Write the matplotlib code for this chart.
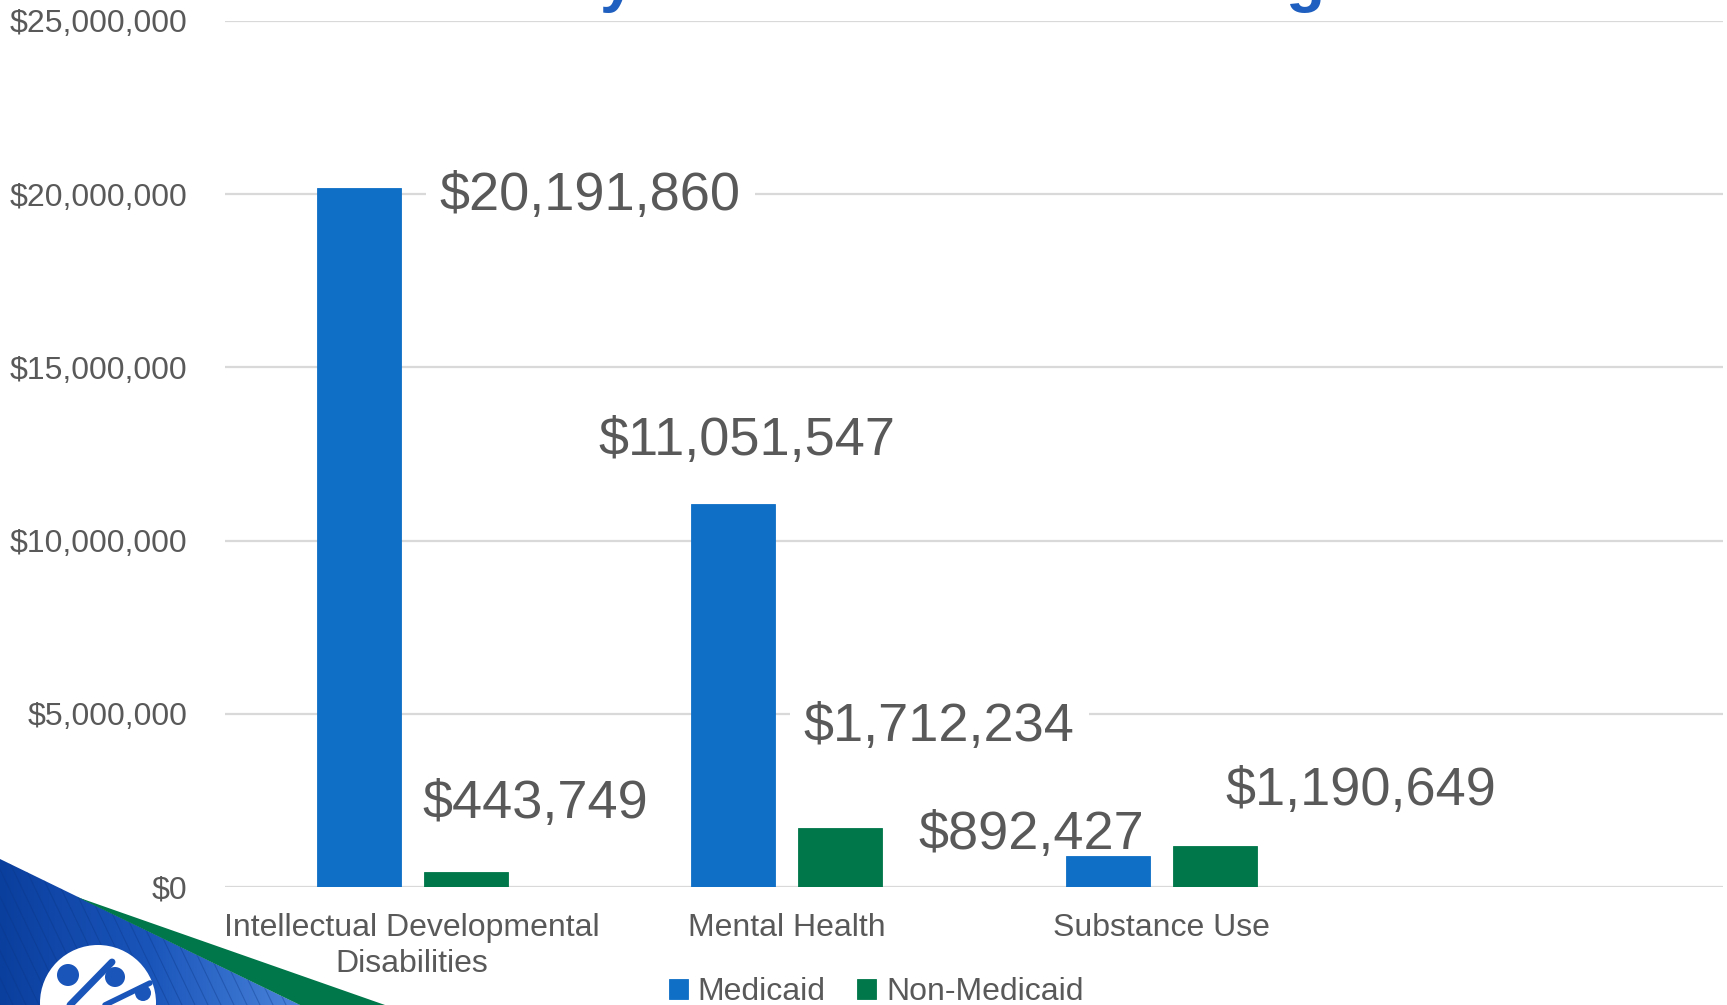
import numpy as np
import matplotlib.pyplot as plt
from matplotlib.patches import Polygon, Circle
from matplotlib.colors import LinearSegmentedColormap
from matplotlib.ticker import FuncFormatter

plt.rcParams['font.family'] = ['Liberation Sans', 'DejaVu Sans']

# data
categories = ['Intellectual Developmental\nDisabilities', 'Mental Health', 'Substance Use', '']
series_names = ['Medicaid', 'Non-Medicaid']
medicaid = [20191860, 11051547, 892427]
non_medicaid = [443749, 1712234, 1190649]

# layout for the hand-placed value labels (offset from each bar)
label_dx = [[0.618, 0.036, -0.203], [0.185, 0.264, 0.389]]
label_dy = [[-0.25e6, 1.83e6, 0.60e6], [1.94e6, 2.90e6, 1.58e6]]

colors = ['#0F6FC6', '#00774A']
text_color = '#595959'
grid_color = '#D9D9D9'

W, H = 1727, 1005
fig = plt.figure(figsize=(W / 100, H / 100), dpi=100)

# background decoration (bottom-left corner logo band)
deco = fig.add_axes([0, 0, 1, 1], zorder=0)
deco.set_xlim(0, W)
deco.set_ylim(H, 0)
deco.axis('off')

blue_poly = Polygon([(0, 859), (300, 1005), (0, 1005)], closed=True,
                    facecolor='none', edgecolor='none')
deco.add_patch(blue_poly)
grad = np.linspace(0, 1, 256).reshape(1, -1)
cmap = LinearSegmentedColormap.from_list('bl', ['#0B3F9E', '#1A55BA', '#4A84DB'])
im = deco.imshow(grad, cmap=cmap, extent=(0, 300, 1005, 859), aspect='auto', zorder=1)
im.set_clip_path(blue_poly)
for s in np.arange(-200, 320, 13):
    ln, = deco.plot([s, s + 70], [859, 1005], color='#0A3585', lw=0.8, alpha=0.35, zorder=2)
    ln.set_clip_path(blue_poly)
deco.add_patch(Polygon([(77, 897), (385, 1005), (300, 1005)], closed=True,
                       facecolor='#00774A', edgecolor='none', zorder=3))
deco.add_patch(Circle((98, 1003), 58, facecolor='white', edgecolor='none', zorder=4))
for (cx, cy, r) in [(68, 975, 11), (115, 977, 10), (143, 993, 8)]:
    deco.add_patch(Circle((cx, cy), r, facecolor='#1A55BA', edgecolor='none', zorder=5))
deco.plot([70, 112], [1005, 962], color='#1A55BA', lw=5, zorder=5, solid_capstyle='round')
deco.plot([105, 150], [1005, 983], color='#1A55BA', lw=4, zorder=5, solid_capstyle='round')

# title sits above the slide edge; only descenders show
fig.text(617 / W, 1.0, 'y', fontsize=46, fontweight='bold', color='#1F5FBF',
         ha='center', va='baseline', zorder=6)
fig.text(1305 / W, 1.0, 'g', fontsize=46, fontweight='bold', color='#1F5FBF',
         ha='center', va='baseline', zorder=6)

# main chart
ax = fig.add_axes([225 / W, 1 - 887 / H, 1498 / W, 866 / H], zorder=2)
ax.patch.set_alpha(0)

x = np.arange(len(medicaid))
width = 0.2235
offset = 0.143
data = [medicaid, non_medicaid]
for i, vals in enumerate(data):
    xs = x + (i * 2 - 1) * offset
    ax.bar(xs, vals, width, color=colors[i], edgecolor=colors[i], linewidth=0.6,
           label=series_names[i], zorder=3)
    for j, v in enumerate(vals):
        ax.text(xs[j] + label_dx[i][j], v + label_dy[i][j], f'${v:,.0f}',
                fontsize=39, color=text_color, ha='center', va='center', zorder=2.5,
                bbox=dict(facecolor='white', edgecolor='none', pad=10))

ax.set_xlim(-0.5, 3.5)
ax.set_ylim(0, 25000000)
ax.set_yticks(np.arange(0, 25000001, 5000000))
ax.yaxis.set_major_formatter(FuncFormatter(lambda v, p: f'${v:,.0f}'))
ax.set_xticks(np.arange(len(categories)))
ax.set_xticklabels(categories, linespacing=1.25)
ax.tick_params(axis='both', length=0, labelsize=23, labelcolor=text_color)
ax.tick_params(axis='y', pad=27)
ax.tick_params(axis='x', pad=19)
ax.grid(axis='y', color=grid_color, linewidth=1.6, zorder=0)
ax.set_axisbelow(True)
for sp in ax.spines.values():
    sp.set_visible(False)

fig.legend(loc='center', bbox_to_anchor=(876 / W, 1 - 992 / H), ncol=2, frameon=False,
           fontsize=23, labelcolor=text_color, handlelength=0.6, handleheight=0.6,
           handletextpad=0.3, columnspacing=1.0)

plt.savefig('out.png', dpi=100)
